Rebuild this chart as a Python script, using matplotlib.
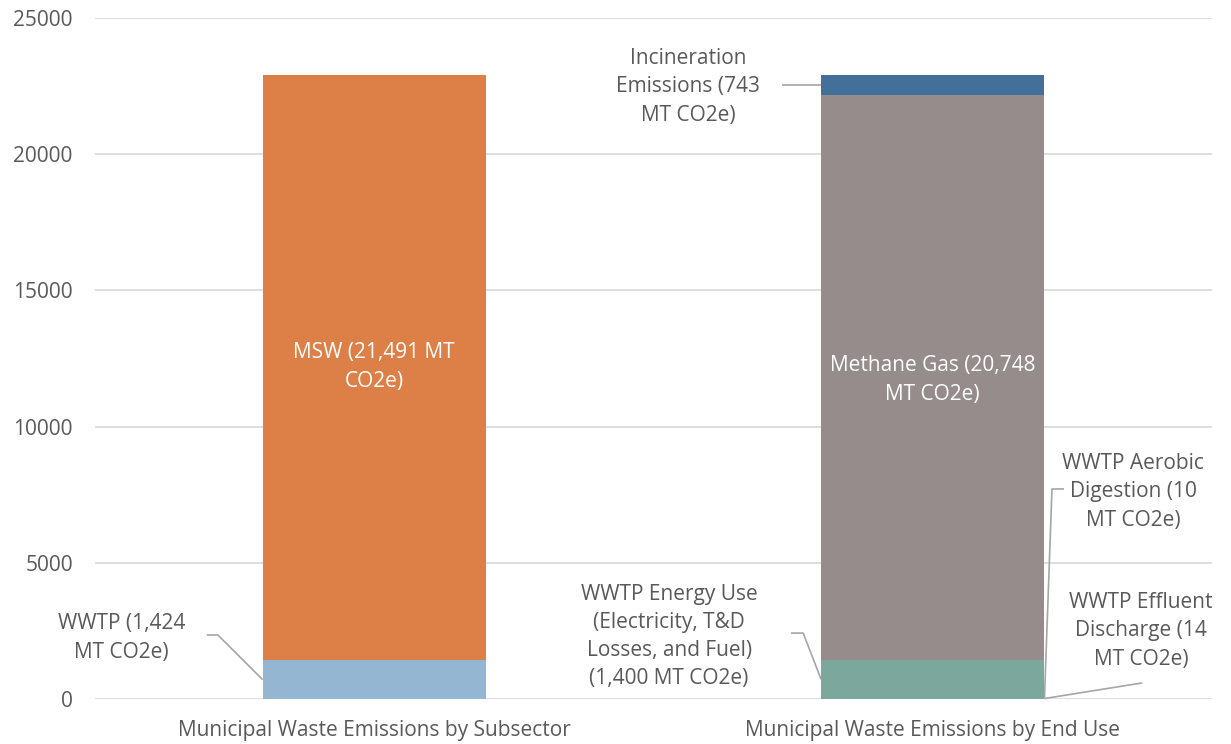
import matplotlib.pyplot as plt
import numpy as np

# municipal waste emissions, MT CO2e
categories = ['Municipal Waste Emissions by Subsector', 'Municipal Waste Emissions by End Use']

subsector_names = ['WWTP', 'MSW']
subsector_values = [1424, 21491]

enduse_names = ['WWTP Aerobic Digestion', 'WWTP Effluent Discharge',
                'WWTP Energy Use (Electricity, T&D Losses, and Fuel)',
                'Methane Gas', 'Incineration Emissions']
enduse_values = [10, 14, 1400, 20748, 743]

yticks = [0, 5000, 10000, 15000, 20000, 25000]

subsector_colors = ['#94b6d2', '#dd8047']
enduse_colors = ['#7ba79d', '#7ba79d', '#7ba79d', '#968c8c', '#42709a']

plt.rcParams['font.family'] = ['Open Sans', 'DejaVu Sans']
txt = '#595959'
lead = '#a6a6a6'
fs = 15
ls = 1.45

fig = plt.figure(figsize=(12.31, 7.44), dpi=100)
ax = fig.add_axes([95 / 1231, 1 - 699 / 744, (1212 - 95) / 1231, (699 - 18) / 744])

w = 0.4
x = np.arange(len(categories))

def stack(xpos, vals, cols):
    bottoms = np.concatenate([[0], np.cumsum(vals)[:-1]])
    ax.bar([xpos] * len(vals), vals, width=w, bottom=bottoms, color=cols,
           linewidth=0, zorder=3)
    return bottoms

b_sub = stack(x[0], subsector_values, subsector_colors)
b_end = stack(x[1], enduse_values, enduse_colors)

ax.set_xlim(-0.5, 1.5)
ax.set_ylim(0, 25000)
ax.set_yticks(yticks)
ax.set_xticks(x)
ax.set_xticklabels(categories)
ax.yaxis.grid(True, color='#d9d9d9', linewidth=1.2, zorder=0)
for s in ax.spines.values():
    s.set_visible(False)
ax.tick_params(length=0, labelsize=fs, colors=txt)
ax.tick_params(axis='y', pad=16)
ax.tick_params(axis='x', pad=15)

def mid(b, v, i):
    return b[i] + v[i] / 2

# labels inside the bars
ax.text(x[0], 12190, 'MSW (21,491 MT\nCO2e)', ha='center', va='center',
        color='white', fontsize=fs, linespacing=ls)
ax.text(x[1], 11710, 'Methane Gas (20,748\nMT CO2e)', ha='center', va='center',
        color='white', fontsize=fs, linespacing=ls)

# labels with leader lines
def leader(pts, text, tx, ty):
    xs, ys = zip(*pts)
    ax.plot(xs, ys, color=lead, linewidth=1.2, zorder=4, clip_on=False,
            solid_capstyle='butt')
    ax.text(tx, ty, text, ha='center', va='center', color=txt, fontsize=fs,
            linespacing=ls)

left_edge0 = x[0] - w / 2
left_edge1 = x[1] - w / 2
right_edge1 = x[1] + w / 2

y = mid(b_sub, subsector_values, 0)
leader([(-0.300, 2350), (-0.280, 2350), (left_edge0, y)],
       'WWTP (1,424\nMT CO2e)', -0.452, 2240)

y = mid(b_end, enduse_values, 4)
leader([(0.730, y), (left_edge1, y)],
       'Incineration\nEmissions (743\nMT CO2e)', 0.562, 22470)

y = mid(b_end, enduse_values, 2)
leader([(0.746, 2420), (0.768, 2420), (left_edge1, y)],
       'WWTP Energy Use\n(Electricity, T&D\nLosses, and Fuel)\n(1,400 MT CO2e)', 0.528, 2300)

y = mid(b_end, enduse_values, 0)
leader([(1.235, 7710), (1.2135, 7710), (right_edge1, y)],
       'WWTP Aerobic\nDigestion (10\nMT CO2e)', 1.359, 7600)

y = mid(b_end, enduse_values, 1)
leader([(1.375, 590), (right_edge1, y)],
       'WWTP Effluent\nDischarge (14\nMT CO2e)', 1.373, 2500)

fig.savefig('out.png', dpi=100)
